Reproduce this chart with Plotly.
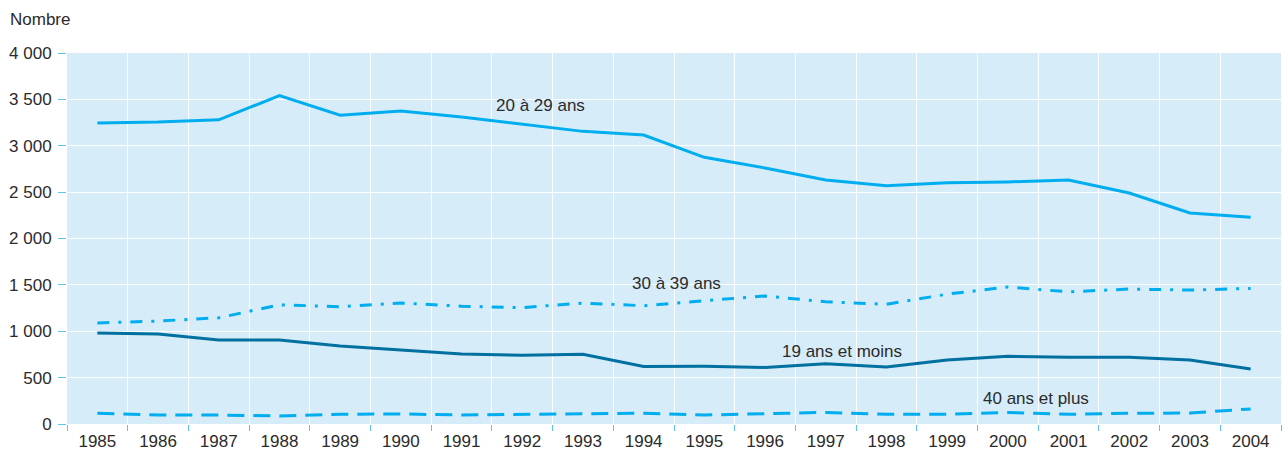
import plotly.graph_objects as go

years = [str(y) for y in range(1985, 2005)]
ages_20_29 = [3245, 3255, 3280, 3540, 3330, 3375, 3310, 3235, 3155, 3115,
              2875, 2760, 2630, 2570, 2600, 2610, 2630, 2490, 2275, 2230]
ages_30_39 = [1090, 1110, 1145, 1285, 1265, 1305, 1270, 1255, 1304, 1275,
              1330, 1380, 1318, 1290, 1400, 1477, 1425, 1455, 1444, 1462]
ages_19_moins = [980, 970, 905, 905, 841, 800, 755, 740, 752, 620,
                 622, 610, 650, 615, 690, 730, 720, 720, 690, 593]
ages_40_plus = [115, 97, 97, 86, 105, 108, 97, 105, 108, 117,
                97, 115, 125, 105, 105, 125, 105, 115, 118, 162]

cyan = "rgb(0,174,239)"
dark = "rgb(0,112,160)"

fig = go.Figure()
fig.add_trace(go.Scatter(x=years, y=ages_20_29, mode="lines",
                         line=dict(color=cyan, width=3), name="20 à 29 ans"))
fig.add_trace(go.Scatter(x=years, y=ages_30_39, mode="lines",
                         line=dict(color=cyan, width=3, dash="12px,9px,3px,9px"),
                         name="30 à 39 ans"))
fig.add_trace(go.Scatter(x=years, y=ages_19_moins, mode="lines",
                         line=dict(color=dark, width=3), name="19 ans et moins"))
fig.add_trace(go.Scatter(x=years, y=ages_40_plus, mode="lines",
                         line=dict(color=cyan, width=3, dash="17px,9px"),
                         name="40 ans et plus"))

font_col = "#2b2b2b"
fsize = 17
labels = [("20 à 29 ans", 7.30, 3439), ("30 à 39 ans", 9.54, 1515),
          ("19 ans et moins", 12.27, 787), ("40 ans et plus", 15.46, 270)]
for txt, xi, yv in labels:
    fig.add_annotation(x=xi, y=yv, text=txt, showarrow=False,
                       font=dict(size=fsize, color=font_col), xref="x", yref="y")

fig.add_annotation(x=-0.0487, y=1.089, xref="paper", yref="paper", text="Nombre",
                   showarrow=False, xanchor="left", yanchor="middle",
                   font=dict(size=fsize, color=font_col))

fig.update_layout(
    width=1282, height=451,
    margin=dict(l=67, r=1, t=53, b=27, autoexpand=False),
    paper_bgcolor="white",
    plot_bgcolor="rgb(214,236,249)",
    showlegend=False,
    separators=", ",
    font=dict(family="Liberation Sans, Arial, sans-serif", size=fsize, color=font_col),
    xaxis=dict(type="category", range=[-0.5, 19.5], tickson="boundaries",
               showgrid=True, gridcolor="white", gridwidth=1,
               ticks="outside", ticklen=6, tickcolor="rgb(91,197,242)",
               ticklabelstandoff=5,
               showline=False, zeroline=False, tickfont=dict(size=fsize)),
    yaxis=dict(range=[0, 4000], dtick=500, tick0=0, separatethousands=True,
               showgrid=True, gridcolor="white", gridwidth=1,
               ticks="outside", ticklen=8, tickcolor="rgb(91,197,242)",
               ticklabelstandoff=3,
               showline=False, zeroline=False, tickfont=dict(size=fsize)),
)

fig.write_html("out.html", config={"displayModeBar": False},
               post_script="document.body.style.margin='0px';")
